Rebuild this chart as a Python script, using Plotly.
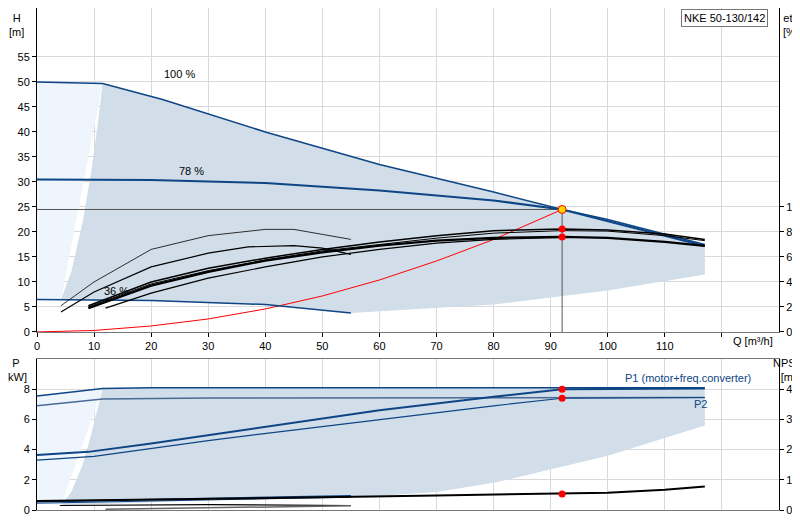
import plotly.graph_objects as go

# ---------- data ----------
h100_q = [0, 11.5, 22, 40, 60, 80, 92, 100, 117]
h100_h = [50, 49.7, 46.5, 40, 33.5, 28, 24.5, 22.5, 17.5]
h78_q = [0, 20, 40, 60, 80, 92, 117]
h78_h = [30.5, 30.4, 29.8, 28.3, 26.3, 24.5, 17.2]
h36_q = [0, 20, 40, 55]
h36_h = [6.5, 6.3, 5.5, 3.8]
sys_q = [0, 10, 20, 30, 40, 50, 60, 70, 80, 92]
sys_h = [0, 0.3, 1.2, 2.6, 4.6, 7.2, 10.4, 14.2, 18.5, 24.5]
dark_left_q = [4.2, 6, 8, 9.5, 10.7, 11.5]
dark_left_h = [6.5, 12, 22, 32, 42, 49.7]
low_edge_q = [117, 100, 80, 55]
low_edge_h = [11.5, 8.3, 5.5, 3.8]

etaA_q = [4.2, 10, 20, 30, 40, 45, 50, 55]
etaA = [21, 40, 66, 77, 82, 82, 78, 74]
etaB_q = [4.2, 10, 20, 30, 37, 45, 50, 55]
etaB = [16, 32, 52, 63, 68, 69, 67, 62]
etaC_q = [9, 20, 30, 40, 50, 60, 70, 80, 92, 100, 110, 117]
etaC = [21, 40, 51, 59, 66, 72, 77, 81, 82.4, 81.6, 78.4, 74]
etaD = [19, 37, 48, 57, 63.6, 69, 73, 75.2, 76, 75.2, 72, 68.8]
etaE = [20, 38.4, 49, 57.6, 64.8, 70, 75, 79, 81, 80.6, 77, 73]
etaF_q = [12, 20, 30, 40, 50, 60, 70, 80, 92]
etaF = [19, 31, 43, 52, 60, 66, 71, 74, 75.6]

p1_100_q = [0, 11.5, 20, 117]
p1_100 = [7.55, 8.05, 8.1, 8.1]
p2_100_q = [0, 11.5, 30, 117]
p2_100 = [6.9, 7.35, 7.42, 7.45]
p1_78_q = [0, 9, 20, 40, 60, 80, 92, 117]
p1_78 = [3.65, 3.85, 4.4, 5.5, 6.6, 7.5, 8.0, 8.05]
p2_78_q = [0, 10, 30, 60, 80, 92, 117]
p2_78 = [3.3, 3.55, 4.6, 6.0, 6.9, 7.4, 7.45]
p1_36_q = [0, 55]
p1_36 = [0.55, 0.95]
p2_36 = [0.45, 0.85]
pblk_q = [4, 30, 55]
pblk = [0.3, 0.35, 0.3]
pgry_q = [12, 55]
pgry = [0.05, 0.28]
npsh_q = [0, 10, 30, 50, 70, 92, 100, 110, 117]
npsh = [3.0, 3.2, 3.6, 4.2, 4.8, 5.3, 5.7, 6.7, 7.8]
pfill_low_q = [117, 100, 80, 70, 60, 55, 30, 4.2]
pfill_low = [5.6, 3.6, 1.8, 1.2, 0.95, 0.9, 0.65, 0.3]
pleft_q = [4.2, 6, 8, 9.5, 10.7, 11.5]
pleft = [0.3, 1.2, 3.0, 5.0, 6.8, 8.05]

op_q, op_h = 92, 24.5
op_eta = [82.4, 76]
op_p = [8.0, 7.4]
op_npsh = 5.3

BLUE = "#0d4585"
FILL = "#d1dde8"
LIGHT = "#eef5fc"

fig = go.Figure()
def add(x, y, xa="x", ya="y", **kw):
    fig.add_trace(go.Scatter(x=x, y=y, xaxis=xa, yaxis=ya, showlegend=False,
                             hoverinfo="skip", **kw))

# top fills
add([0, 11.5, 4.2, 0], [50, 49.7, 6.5, 6.5], fill="toself", fillcolor=LIGHT, mode="none")
add(dark_left_q + h100_q[2:] + low_edge_q + h36_q[::-1][1:],
    dark_left_h + h100_h[2:] + low_edge_h + h36_h[::-1][1:],
    fill="toself", fillcolor=FILL, mode="none")
add([0, op_q], [op_h, op_h], mode="lines", line=dict(color="#555", width=1))
add([op_q, op_q], [op_h, 0], mode="lines", line=dict(color="#555", width=1))
add(sys_q, sys_h, mode="lines", line=dict(color="red", width=1))
add(h100_q, h100_h, mode="lines", line=dict(color=BLUE, width=1.5))
add(h78_q, h78_h, mode="lines", line=dict(color=BLUE, width=2))
add(h36_q, h36_h, mode="lines", line=dict(color=BLUE, width=1.5))
for q, e, w in [(etaA_q, etaA, 0.8), (etaB_q, etaB, 1.2), (etaC_q, etaC, 1.5),
                (etaC_q, etaE, 1), (etaC_q, etaD, 2.2), (etaF_q, etaF, 1.2)]:
    add(q, e, ya="y2", mode="lines", line=dict(color="black", width=w))
add([op_q, op_q], op_eta, ya="y2", mode="markers", marker=dict(color="red", size=7))
add([op_q], [op_h], mode="markers", marker=dict(color="#ffd400", size=8, line=dict(color="red", width=1)))

# bottom fills
add([0, 11.5, 4.2, 0], [7.6, 8.05, 0.3, 0.5], xa="x2", ya="y3", fill="toself", fillcolor=LIGHT, mode="none")
add(pleft_q + [117] + pfill_low_q, pleft + [8.1] + pfill_low, xa="x2", ya="y3",
    fill="toself", fillcolor=FILL, mode="none")
add(p2_100_q, p2_100, xa="x2", ya="y3", mode="lines", line=dict(color="#4a6a94", width=1.5))
add(p1_100_q, p1_100, xa="x2", ya="y3", mode="lines", line=dict(color=BLUE, width=1.5))
add(p1_78_q, p1_78, xa="x2", ya="y3", mode="lines", line=dict(color=BLUE, width=2))
add(p2_78_q, p2_78, xa="x2", ya="y3", mode="lines", line=dict(color=BLUE, width=1.2))
add(p1_36_q, p1_36, xa="x2", ya="y3", mode="lines", line=dict(color=BLUE, width=1.5))
add(p1_36_q, p2_36, xa="x2", ya="y3", mode="lines", line=dict(color=BLUE, width=1))
add(pblk_q, pblk, xa="x2", ya="y3", mode="lines", line=dict(color="black", width=1.2))
add(pgry_q, pgry, xa="x2", ya="y3", mode="lines", line=dict(color="#666", width=1.5))
add(npsh_q, npsh, xa="x2", ya="y4", mode="lines", line=dict(color="black", width=2))
add([op_q, op_q], op_p, xa="x2", ya="y3", mode="markers", marker=dict(color="red", size=7))
add([op_q], [op_npsh], xa="x2", ya="y4", mode="markers", marker=dict(color="red", size=7))

F = dict(family="Liberation Sans, Arial", size=11, color="black")
grid = "#d9d9d9"
ax = dict(showgrid=True, gridcolor=grid, gridwidth=1.3, zeroline=False, ticks="outside",
          ticklen=4, tickcolor="black", showline=True, linecolor="black", tickfont=F,
          automargin=False)
xt = list(range(0, 130, 10))
fig.update_layout(
    width=800, height=520, margin=dict(l=29, r=29, t=0, b=0, autoexpand=False),
    plot_bgcolor="white", paper_bgcolor="white", font=F,
    xaxis=dict(ax, domain=[0, 1], range=[0, 130], tickvals=xt,
               ticktext=[str(v) if v <= 110 else "" for v in xt], anchor="y",
               mirror=True, linecolor="#777"),
    yaxis=dict(ax, domain=[0.377, 1], range=[0, 64.8], tickvals=list(range(0, 60, 5)),
               anchor="x"),
    yaxis2=dict(ax, overlaying="y", side="right", range=[0, 259], showgrid=False,
                tickvals=list(range(0, 120, 20)), anchor="x"),
    xaxis2=dict(ax, domain=[0, 1], range=[0, 130], tickvals=xt, showticklabels=False,
                anchor="y3", mirror=True, linecolor="#777", ticks=""),
    yaxis3=dict(ax, domain=[0.0346, 0.325], range=[0, 10], tickvals=[0, 2, 4, 6, 8], anchor="x2"),
    yaxis4=dict(ax, overlaying="y3", side="right", range=[0, 50], showgrid=False,
                tickvals=[0, 10, 20, 30, 40], anchor="x2"),
)
for a in [dict(x=25, y=51.5, text="100 %"), dict(x=27, y=32.2, text="78 %"),
          dict(x=14, y=8.2, text="36 %")]:
    fig.add_annotation(xref="x", yref="y", showarrow=False, font=F, **a)
fig.add_annotation(x=114, y=8.75, xref="x2", yref="y3", text="P1 (motor+freq.converter)",
                   showarrow=False, font=dict(F, color=BLUE), xanchor="center")
fig.add_annotation(x=116.3, y=7.0, xref="x2", yref="y3", text="P2", showarrow=False,
                   font=dict(F, color=BLUE))

def px(x):
    return (x - 29) / 742.0
def py(y):
    return (520 - y) / 520.0
for x, y, t, xa in [(8, 2, "H<br>[m]", "center"), (783, 2, "eta<br>[%]", "center"),
                    (745, 333, "Q [m³/h]", "center"), (8, 347, "P<br>[kW]", "center"),
                    (781, 347, "NPSH<br>[m]", "center")]:
    fig.add_annotation(x=px(x), y=py(y), xref="paper", yref="paper", text=t, showarrow=False,
                       xanchor=xa, yanchor="top" if "<br>" in t else "middle", font=F,
                       align="center")
fig.add_annotation(x=px(760), y=py(1), xref="paper", yref="paper", text="NKE 50-130/142",
                   showarrow=False, xanchor="right", yanchor="top", font=F, bgcolor="white",
                   bordercolor="#777", borderwidth=1, borderpad=2)
fig.write_html("out.html")
